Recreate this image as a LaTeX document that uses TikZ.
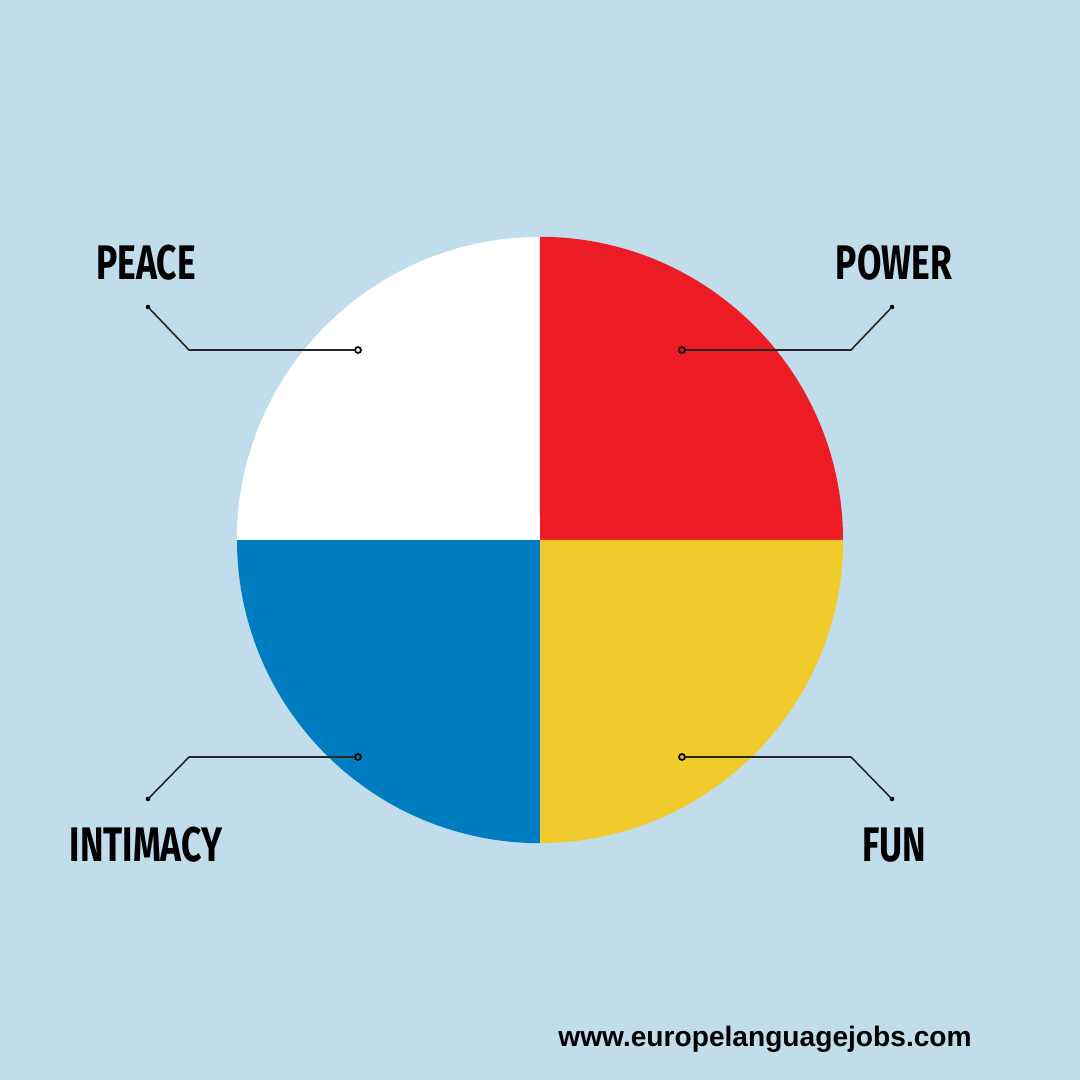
\documentclass[tikz,border=0pt]{standalone}
\usepackage{fontspec}
\setmainfont{Liberation Sans}
\newfontfamily\labelfont{Fira Sans}
\definecolor{bgblue}{HTML}{C1DDEB}
\definecolor{segred}{HTML}{ED1C24}
\definecolor{segyellow}{HTML}{F0CB2B}
\definecolor{segblue}{HTML}{007DC1}
\begin{document}
\begin{tikzpicture}[x=0.01cm,y=-0.01cm]

              % Definitions
              \tikzstyle{Label} = [font=\labelfont\bfseries\fontsize{13.8}{14}\selectfont, text=black, inner sep=0pt]
              \tikzstyle{Tip} = [circle, fill=black, inner sep=0pt, minimum size=1.3pt]
              \tikzstyle{Ring} = [circle, draw=black, line width=0.5pt, inner sep=0pt, minimum size=1.7pt]
              \tikzstyle{leader} = [line width=0.45pt, black!85]

              \fill[bgblue] (0,0) rectangle (1080,1080);
              \useasboundingbox (0,0) rectangle (1080,1080);

              % Quarters
              \fill[white] (540,540) -- (540,237) arc[start angle=90, end angle=180, radius=3.03cm] -- cycle;
              \fill[segred] (540,540) -- (843,540) arc[start angle=0, end angle=90, radius=3.03cm] -- cycle;
              \fill[segblue] (540,540) -- (237,540) arc[start angle=180, end angle=270, radius=3.03cm] -- cycle;
              \fill[segyellow] (540,540) -- (540,843) arc[start angle=270, end angle=360, radius=3.03cm] -- cycle;

              \node (peace) [Label] at (146,263) {\scalebox{0.73}[1]{PEACE}};
              \node (power) [Label] at (894,263) {\scalebox{0.73}[1]{POWER}};
              \node (intimacy) [Label] at (146,845) {\scalebox{0.73}[1]{INTIMACY}};
              \node (fun) [Label] at (894,845) {\scalebox{0.73}[1]{FUN}};

              \node (peacetip) [Tip] at (148,307) {};
              \node (powertip) [Tip] at (892,307) {};
              \node (intimacytip) [Tip] at (148,799) {};
              \node (funtip) [Tip] at (892,799) {};

              \node (peacering) [Ring] at (358,350) {};
              \node (powerring) [Ring] at (682,350) {};
              \node (intimacyring) [Ring] at (358,757) {};
              \node (funring) [Ring] at (682,757) {};

              \coordinate (peaceknee) at (189,350);
              \coordinate (powerknee) at (851,350);
              \coordinate (intimacyknee) at (189,757);
              \coordinate (funknee) at (851,757);

              \draw [leader] (peacetip.center) -- (peaceknee) -- (peacering);
              \draw [leader] (powertip.center) -- (powerknee) -- (powerring);
              \draw [leader] (intimacytip.center) -- (intimacyknee) -- (intimacyring);
              \draw [leader] (funtip.center) -- (funknee) -- (funring);

              \node (site) [font=\bfseries\fontsize{8.0}{10}\selectfont, inner sep=0pt] at (765,1039) {www.europelanguagejobs.com};

            \end{tikzpicture}
\end{document}
